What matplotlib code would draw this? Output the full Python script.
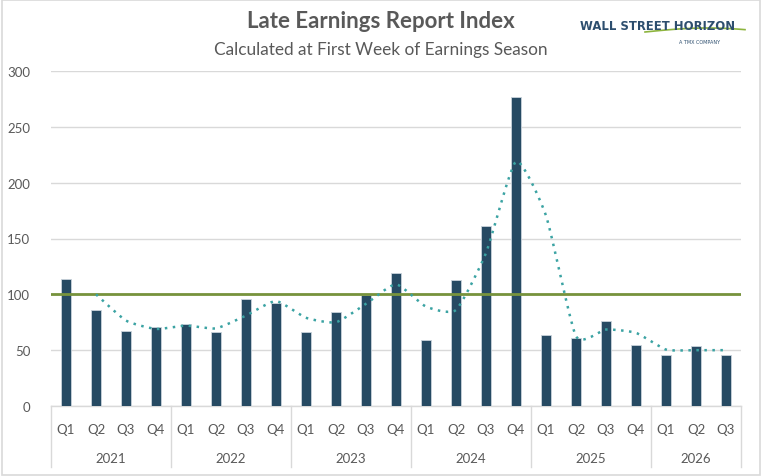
import numpy as np
import pandas as pd
import matplotlib.pyplot as plt
from matplotlib.patches import Rectangle

years = ["2021", "2022", "2023", "2024", "2025", "2026"]
quarters = ["Q1", "Q2", "Q3", "Q4"]
index_values = [114, 86, 67, 71,
                73, 66, 96, 92,
                66, 84, 99, 119,
                59, 113, 161, 277,
                64, 61, 76, 55,
                46, 54, 46]
baseline = 100

labels = [(y, q) for y in years for q in quarters][:len(index_values)]
n = len(index_values)
x = np.arange(n)

# two period moving average (Excel-style trendline)
trend = pd.Series(index_values).rolling(2).mean().to_numpy()


def smooth(xs, ys, steps=20, tension=0.45):
    # cardinal spline through the points, like Excel "smoothed line"
    xs, ys = np.asarray(xs, float), np.asarray(ys, float)
    m = len(xs)
    mx, my = np.zeros(m), np.zeros(m)
    for i in range(m):
        a, b = max(i - 1, 0), min(i + 1, m - 1)
        mx[i] = (1 - tension) * (xs[b] - xs[a]) / 2
        my[i] = (1 - tension) * (ys[b] - ys[a]) / 2
    px, py = [], []
    for i in range(m - 1):
        for t in np.linspace(0, 1, steps, endpoint=False):
            h00 = 2 * t**3 - 3 * t**2 + 1
            h10 = t**3 - 2 * t**2 + t
            h01 = -2 * t**3 + 3 * t**2
            h11 = t**3 - t**2
            px.append(h00 * xs[i] + h10 * mx[i] + h01 * xs[i + 1] + h11 * mx[i + 1])
            py.append(h00 * ys[i] + h10 * my[i] + h01 * ys[i + 1] + h11 * my[i + 1])
    px.append(xs[-1])
    py.append(ys[-1])
    return px, py


plt.rcParams['font.family'] = ['Lato', 'DejaVu Sans']

fig = plt.figure(figsize=(7.62, 4.77), dpi=100)
fig.patches.append(Rectangle((0.002, 0.002), 0.995, 0.996, transform=fig.transFigure,
                             fill=False, edgecolor="#D9D9D9", linewidth=1.2))

W, H = 762, 477
left, right, top, bottom = 51, 741, 72, 407
ax = fig.add_axes([left / W, 1 - bottom / H, (right - left) / W, (bottom - top) / H])

ax.bar(x, index_values, width=0.31, color="#264A63", edgecolor="#C9D3DC", linewidth=0.6, zorder=3)
ax.axhline(baseline, color="#77933C", linewidth=2, zorder=4)
tx, ty = smooth(x[1:], trend[1:])
ax.plot(tx, ty, linestyle=(0, (1, 2.2)), color="#3BA3A3", linewidth=1.8, zorder=5)

ax.set_xlim(-0.5, n - 0.5)
ax.set_ylim(0, 300)
ax.set_yticks(range(0, 301, 50))
ax.grid(axis="y", color="#D9D9D9", linewidth=1, zorder=0)
ax.tick_params(axis="y", length=0, labelsize=9.5, labelcolor="#595959", pad=15)
ax.tick_params(axis="x", length=0, labelbottom=False)
for s in ["top", "right", "left"]:
    ax.spines[s].set_visible(False)
ax.spines["bottom"].set_color("#D9D9D9")
ax.spines["bottom"].set_linewidth(1)

# two level category axis
trans = ax.get_xaxis_transform()
box_depth = (468 - bottom) / (bottom - top)
for i, (yr, q) in enumerate(labels):
    ax.text(i, -(430 - bottom) / (bottom - top), q, transform=trans, ha="center", va="center",
            fontsize=9.5, color="#595959")
for k, yr in enumerate(years):
    idx = [i for i, lb in enumerate(labels) if lb[0] == yr]
    ax.text(np.mean(idx), -(459 - bottom) / (bottom - top), yr, transform=trans, ha="center",
            va="center", fontsize=9.5, color="#595959")
    ax.plot([idx[0] - 0.5] * 2, [0, -box_depth], transform=trans, color="#D9D9D9",
            linewidth=1, clip_on=False)
ax.plot([n - 0.5] * 2, [0, -box_depth], transform=trans, color="#D9D9D9", linewidth=1, clip_on=False)

fig.text(381 / W, 1 - 22 / H, "Late Earnings Report Index", ha="center", va="center",
         fontsize=16, fontweight="bold", color="#595959")
fig.text(381 / W, 1 - 50 / H, "Calculated at First Week of Earnings Season", ha="center",
         va="center", fontsize=12.4, color="#595959")

# logo
fig.text(657 / W, 1 - 27 / H, "WALL STREET HORIZON", ha="center", va="center", fontsize=8.4,
         fontweight="bold", color="#2D4E6E", family="DejaVu Sans")
fig.text(700 / W, 1 - 43 / H, "A TMX COMPANY", ha="center", va="center", fontsize=3.5,
         color="#2D4E6E", family="DejaVu Sans")
sw = np.linspace(645, 745, 30)
fig.add_artist(plt.Line2D(sw / W, 1 - (33 - 4 * np.sin((sw - 645) / 100 * np.pi * 0.8)) / H,
                          color="#8DB43E", linewidth=1.2))

plt.savefig("out.png", dpi=100)
